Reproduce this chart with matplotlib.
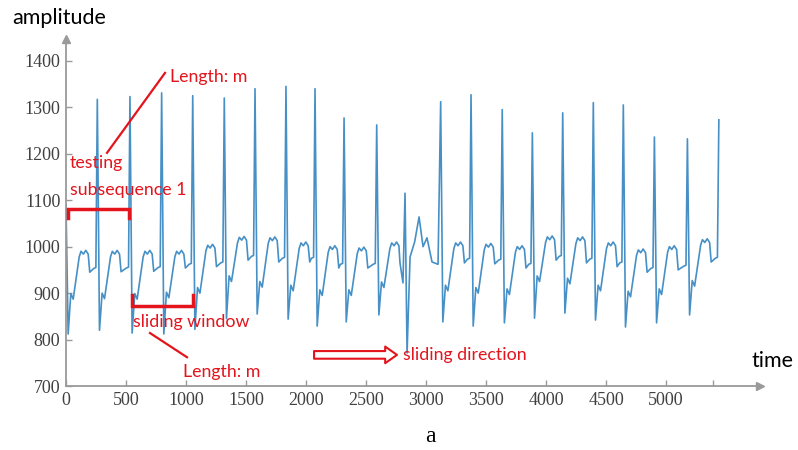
import matplotlib.pyplot as plt

# R-peak times and per-beat levels
r_time = [0, 261, 533, 797, 1056, 1319, 1575, 1833, 2075, 2317, 2589,
          3122, 3375, 3635, 3886, 4139, 4394, 4644, 4903, 5178]
r_peak = [1090, 1317, 1323, 1331, 1325, 1320, 1340, 1345, 1340, 1277, 1262,
          1312, 1327, 1295, 1245, 1288, 1310, 1305, 1236, 1232]
s_trough = [812, 820, 814, 812, 822, 845, 855, 844, 829, 838, 853,
            838, 829, 836, 846, 857, 842, 827, 836, 853]
notch = [887, 888, 887, 890, 900, 925, 913, 905, 895, 895, 912,
         905, 900, 897, 925, 920, 905, 892, 897, 915]
plateau = [990, 990, 990, 990, 1003, 1020, 1019, 1008, 1000, 997, 1008,
           1008, 1005, 1000, 1021, 1019, 1008, 993, 1000, 1015]
baseline = [945, 946, 947, 954, 957, 971, 967, 967, 954, 954, 965,
            965, 963, 954, 971, 965, 957, 945, 950, 967]

# odd beat around t = 2800
pvc_after = 2589
pvc_time = [2783, 2808, 2825, 2842, 2867, 2905, 2942, 2975, 3008, 3050, 3100]
pvc_value = [965, 922, 1115, 771, 978, 1010, 1064, 1000, 1019, 967, 962]
end_time = 5440
end_value = 1273

x_ticks = [0, 500, 1000, 1500, 2000, 2500, 3000, 3500, 4000, 4500, 5000]
y_ticks = [700, 800, 900, 1000, 1100, 1200, 1300, 1400]

# build the trace from the per-beat readings
t_pts, v_pts = [], []
for i, r in enumerate(r_time):
    t_pts += [r + o for o in (0, 18, 40, 60, 110, 125, 145, 165, 185)]
    p = plateau[i]
    v_pts += [r_peak[i], s_trough[i], notch[i] + 12, notch[i],
              p - 12, p, p - 6, p + 2, p - 6]
    if r == pvc_after:
        t_pts += pvc_time
        v_pts += pvc_value
        continue
    nxt = r_time[i + 1] if i + 1 < len(r_time) else end_time
    t_pts += [r + 198, nxt - 30, nxt - 12]
    v_pts += [baseline[i], baseline[i] + 8, baseline[i] + 10]
t_pts.append(end_time)
v_pts.append(end_value)

plt.rcParams['font.family'] = ['Liberation Serif', 'DejaVu Serif']

red = '#e3141c'
axis_gray = '#9a9a9a'

fig = plt.figure(figsize=(7.98, 4.5), dpi=100)
ax = fig.add_axes([0.0827, 0.1422, 0.8697, 0.7711])
ax.plot(t_pts, v_pts, color='#4690c6', lw=1.2, zorder=2)

ax.set_xlim(0, 5783)
ax.set_ylim(700, 1447)
ax.set_xticks(x_ticks)
ax.set_yticks(y_ticks)
ax.set_xticks([5390], minor=True)
for s in ('top', 'right'):
    ax.spines[s].set_visible(False)
for s in ('left', 'bottom'):
    ax.spines[s].set_color(axis_gray)
    ax.spines[s].set_linewidth(1.3)
ax.tick_params(which='both', direction='in', length=4, width=1, color=axis_gray,
               labelsize=13, labelcolor='#404040', pad=4)
ax.plot(1, 0, '>', ms=6, color=axis_gray, transform=ax.transAxes, clip_on=False)
ax.plot(0, 1, '^', ms=6, color=axis_gray, transform=ax.transAxes, clip_on=False)

# annotations
afont = dict(family='Lato', color=red, fontsize=12.8, va='center', ha='left')
ax.plot([17, 17, 525, 525], [1062, 1081, 1081, 1062], color=red, lw=2.5,
        solid_joinstyle='miter', zorder=3)
ax.plot([550, 550, 1058, 1058], [896, 872, 872, 896], color=red, lw=2.5,
        solid_joinstyle='miter', zorder=3)
ax.plot([825, 342], [1374, 1202], color=red, lw=1.6, zorder=3)
ax.plot([700, 1008], [814, 762], color=red, lw=1.6, zorder=3)
ax.text(867, 1366, 'Length: m', **afont)
ax.text(33, 1180, 'testing', **afont)
ax.text(33, 1122, 'subsequence 1', **afont)
ax.text(558, 838, 'sliding window', **afont)
ax.text(975, 730, 'Length: m', **afont)
ax.text(2808, 767, 'sliding direction', **afont)
ax.annotate('', xy=(2758, 767), xytext=(2067, 767),
            arrowprops=dict(arrowstyle='simple,head_length=0.85,head_width=1.2,tail_width=0.55',
                            fc='white', ec=red, lw=1.5, mutation_scale=10,
                            shrinkA=0, shrinkB=0))

fig.text(12 / 798, 1 - 18 / 450, 'amplitude', family='Lato', fontsize=15.5,
         va='center', ha='left', color='black')
fig.text(752 / 798, 1 - 361 / 450, 'time', family='Lato', fontsize=15.5,
         va='center', ha='left', color='black')
fig.text(430 / 798, 1 - 437 / 450, 'a', family='Liberation Serif', fontsize=17,
         va='center', ha='center', color='black')

fig.savefig('out.png', dpi=100)
